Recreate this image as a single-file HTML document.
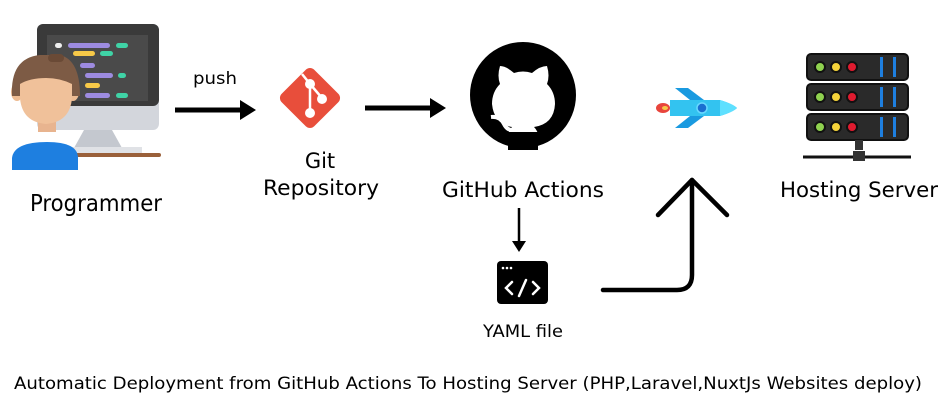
<!DOCTYPE html>
<html><head><meta charset="utf-8"><style>
html,body{margin:0;padding:0;background:#fff;}
svg{display:block;font-family:"DejaVu Sans","Liberation Sans",sans-serif;}
</style></head><body>
<svg width="949" height="407" viewBox="0 0 949 407" xmlns="http://www.w3.org/2000/svg">
<!-- monitor -->
<rect x="37" y="24" width="122" height="106" rx="6" fill="#d3d6dc"/>
<rect x="37" y="24" width="122" height="82" rx="6" fill="#3a3a3a"/>
<rect x="47" y="35" width="101" height="66" fill="#4a4a4a"/>
<path d="M112 130 L122 148 L74 148 L84 130 z" fill="#c4c8cf"/>
<rect x="70" y="147" width="72" height="6" fill="#e0e2e6"/>
<rect x="67" y="153" width="94" height="4" rx="2" fill="#9a603a"/>
<rect x="55" y="43" width="7" height="5" rx="2.5" fill="#eee"/>
<rect x="68" y="43" width="42" height="5" rx="2.5" fill="#9d8be0"/>
<rect x="116" y="43" width="12" height="5" rx="2.5" fill="#3fd3a6"/>
<rect x="73" y="51" width="22" height="5" rx="2.5" fill="#f7c948"/>
<rect x="100" y="51" width="13" height="5" rx="2.5" fill="#3fd3a6"/>
<rect x="80" y="63" width="15" height="5" rx="2.5" fill="#9d8be0"/>
<rect x="85" y="73" width="28" height="5" rx="2.5" fill="#9d8be0"/>
<rect x="118" y="73" width="8" height="5" rx="2.5" fill="#3fd3a6"/>
<rect x="85" y="83" width="15" height="5" rx="2.5" fill="#f7c948"/>
<rect x="85" y="93" width="25" height="5" rx="2.5" fill="#9d8be0"/>
<rect x="116" y="93" width="12" height="5" rx="2.5" fill="#3fd3a6"/>
<!-- person -->
<rect x="38" y="118" width="18" height="14" fill="#e8b48f"/>
<path d="M12 170 L12 158 Q14 142 47 142 Q78 142 78 158 L78 170 z" fill="#1e7fe0"/>
<ellipse cx="17" cy="92" rx="6" ry="9" fill="#eebc93"/>
<ellipse cx="73" cy="92" rx="6" ry="9" fill="#eebc93"/>
<path d="M20 78 L20 98 Q22 122 46 124 Q70 122 72 98 L72 78 z" fill="#f0c19a"/>
<path d="M12 96 Q10 58 40 55 L60 55 Q80 60 80 96 L72 96 L72 84 Q60 78 46 78 Q30 78 20 84 L20 96 z" fill="#7d5b45"/>
<rect x="48" y="54" width="16" height="8" rx="4" fill="#6a4a36"/>
<text x="30" y="211" font-size="23" textLength="132" lengthAdjust="spacingAndGlyphs" fill="#000">Programmer</text>
<!-- push arrow -->
<line x1="175" y1="110" x2="243" y2="110" stroke="#000" stroke-width="5"/>
<path d="M240 100 L256 110 L240 120 z" fill="#000"/>
<text x="193" y="84" font-size="17" textLength="44" lengthAdjust="spacingAndGlyphs" fill="#000">push</text>
<!-- git -->
<rect x="287" y="75" width="46" height="46" rx="6" transform="rotate(45 310 98)" fill="#e84e3b"/>
<path d="M302 74 L310 84 L310 113 M310 84 L322 98" stroke="#fff" stroke-width="2.5" fill="none"/>
<circle cx="310" cy="84" r="5" fill="#fff"/><circle cx="322" cy="99" r="5" fill="#fff"/><circle cx="310" cy="113" r="5" fill="#fff"/>
<text x="320" y="168" font-size="21" text-anchor="middle" fill="#000">Git</text>
<text x="263" y="195" font-size="21" textLength="116" lengthAdjust="spacingAndGlyphs" fill="#000">Repository</text>
<!-- arrow 2 -->
<line x1="365" y1="108" x2="432" y2="108" stroke="#000" stroke-width="5"/>
<path d="M430 98 L446 108 L430 118 z" fill="#000"/>
<!-- github -->
<circle cx="523" cy="95" r="53" fill="#000"/>
<path d="M500 66 Q497 76 500 84 Q492 92 492 104 Q494 124 512 127 Q508 132 508 136 L508 148 L538 148 L538 136 Q538 131 534 127 Q554 124 555 104 Q555 92 547 84 Q550 76 547 66 Q540 66 532 73 Q523 70 514 73 Q506 66 500 66 z" fill="#fff"/>
<path d="M508 132 L508 150 L538 150 L538 132 z" fill="#000"/>
<path d="M491 117 Q500 116 504 124 Q507 130 512 130" stroke="#fff" stroke-width="4" fill="none"/>
<text x="442" y="197" font-size="21" textLength="162" lengthAdjust="spacingAndGlyphs" fill="#000">GitHub Actions</text>
<!-- down arrow -->
<line x1="519" y1="208" x2="519" y2="243" stroke="#000" stroke-width="2.5"/>
<path d="M512 241 L519 252 L526 241 z" fill="#000"/>
<!-- yaml -->
<rect x="497" y="261" width="51" height="43" rx="4" fill="#000"/>
<circle cx="503" cy="268" r="1.3" fill="#fff"/><circle cx="507" cy="268" r="1.3" fill="#fff"/><circle cx="511" cy="268" r="1.3" fill="#fff"/>
<path d="M512 282 L506 288 L512 294 M533 282 L539 288 L533 294 M526 280 L519 296" stroke="#fff" stroke-width="2.5" fill="none" stroke-linecap="round"/>
<text x="483" y="337" font-size="17" textLength="80" lengthAdjust="spacingAndGlyphs" fill="#000">YAML file</text>
<!-- L arrow -->
<path d="M603 290 L677 290 Q692 290 692 275 L692 180" stroke="#000" stroke-width="4.5" fill="none" stroke-linecap="round"/>
<path d="M658 215 L692 180 L727 215" stroke="#000" stroke-width="4.5" fill="none" stroke-linecap="round" stroke-linejoin="round"/>
<!-- rocket -->
<ellipse cx="663" cy="108" rx="7" ry="5" fill="#e8453c"/>
<ellipse cx="665" cy="108" rx="3" ry="2" fill="#f7c948"/>
<path d="M675 88 L688 88 L704 100 L690 100 z" fill="#1a9ae0"/>
<path d="M675 128 L688 128 L704 116 L690 116 z" fill="#1a9ae0"/>
<path d="M670 100 L720 100 Q733 104 737 108 Q733 112 720 116 L670 116 z" fill="#33c3f0"/>
<path d="M720 100 Q733 104 737 108 Q733 112 720 116 z" fill="#5ee0ff"/>
<circle cx="702" cy="108" r="5" fill="#1a6fd0" stroke="#68d8ff" stroke-width="1.5"/>
<!-- server -->
<g>
<rect x="807" y="54" width="101" height="26" rx="4" fill="#2a2a2a" stroke="#111" stroke-width="2"/>
<rect x="807" y="84" width="101" height="26" rx="4" fill="#2a2a2a" stroke="#111" stroke-width="2"/>
<rect x="807" y="114" width="101" height="26" rx="4" fill="#2a2a2a" stroke="#111" stroke-width="2"/>
<g id="leds">
<circle cx="820" cy="67" r="5" fill="#8fd14f" stroke="#111" stroke-width="2"/>
<circle cx="836" cy="67" r="5" fill="#f5d33a" stroke="#111" stroke-width="2"/>
<circle cx="852" cy="67" r="5" fill="#e01b2f" stroke="#111" stroke-width="2"/>
<rect x="880" y="57" width="3" height="20" fill="#1e7fe0"/><rect x="893" y="57" width="3" height="20" fill="#1e7fe0"/>
</g>
<use href="#leds" y="30"/><use href="#leds" y="60"/>
<rect x="855" y="140" width="8" height="10" fill="#333"/>
<line x1="803" y1="157" x2="911" y2="157" stroke="#111" stroke-width="3"/>
<rect x="853" y="151" width="12" height="10" fill="#333"/>
</g>
<text x="780" y="197" font-size="21" textLength="158" lengthAdjust="spacingAndGlyphs" fill="#000">Hosting Server</text>
<text x="14" y="389" font-size="17" textLength="908" lengthAdjust="spacingAndGlyphs" fill="#000">Automatic Deployment from GitHub Actions To Hosting Server (PHP,Laravel,NuxtJs Websites deploy)</text>
</svg>
</body></html>
